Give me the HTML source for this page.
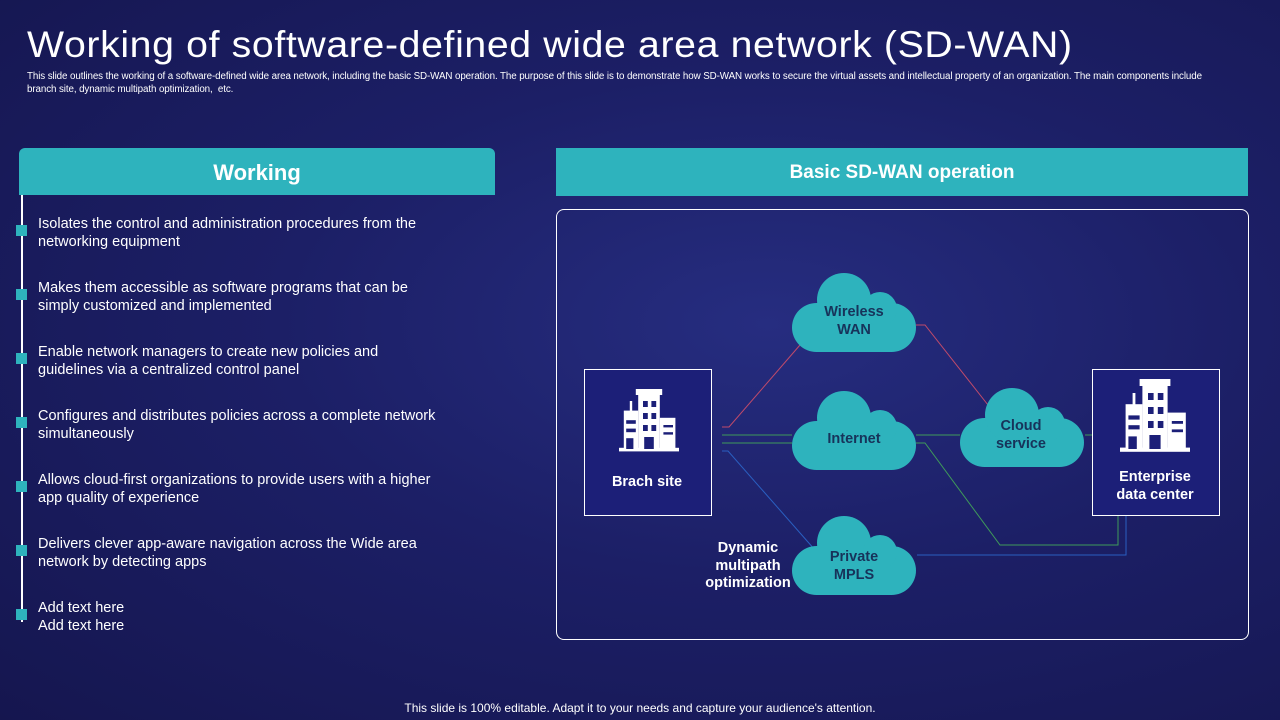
<!DOCTYPE html>
<html><head><meta charset="utf-8"><style>
*{margin:0;padding:0;box-sizing:border-box}
body{width:1280px;height:720px;overflow:hidden;font-family:"Liberation Sans",sans-serif;color:#fff;
background:radial-gradient(ellipse at 60% 45%,#262d80 0%,#1c1f66 45%,#15164f 100%);position:relative}
.abs{position:absolute}
h1{position:absolute;left:27px;top:24px;font-weight:normal;font-size:37px;letter-spacing:0.6px;white-space:nowrap;transform:scaleX(1.06);transform-origin:left}
.sub{left:27px;top:70px;font-size:9.8px;line-height:13px;width:1200px;letter-spacing:-0.1px}
.hdr{background:#2eb3bd;font-weight:bold;text-align:center}
.item{position:absolute;left:38px;font-size:14.5px;line-height:18px;width:405px}
.sq{position:absolute;left:16px;width:11px;height:11px;background:#2eb3bd}
</style></head><body>
<h1>Working of software-defined wide area network (SD-WAN)</h1>
<div class="abs sub">This slide outlines the working of a software-defined wide area network, including the basic SD-WAN operation. The purpose of this slide is to demonstrate how SD-WAN works to secure the virtual assets and intellectual property of an organization. The main components include branch site, dynamic multipath optimization,&nbsp; etc.</div>

<div class="abs hdr" style="left:19px;top:148px;width:476px;height:47px;border-radius:6px 6px 0 0;font-size:22px;line-height:50px">Working</div>
<div class="abs" style="left:21px;top:195px;width:2px;height:427px;background:#fff"></div>
<div class="sq" style="top:225px"></div><div class="item" style="top:215px">Isolates the control and administration procedures from the networking equipment</div>
<div class="sq" style="top:289px"></div><div class="item" style="top:279px">Makes them accessible as software programs that can be simply customized and implemented</div>
<div class="sq" style="top:353px"></div><div class="item" style="top:343px">Enable network managers to create new policies and guidelines via a centralized control panel</div>
<div class="sq" style="top:417px"></div><div class="item" style="top:407px">Configures and distributes policies across a complete network simultaneously</div>
<div class="sq" style="top:481px"></div><div class="item" style="top:471px">Allows cloud-first organizations to provide users with a higher app quality of experience</div>
<div class="sq" style="top:545px"></div><div class="item" style="top:535px">Delivers clever app-aware navigation across the Wide area network by detecting apps</div>
<div class="sq" style="top:609px"></div><div class="item" style="top:599px">Add text here<br>Add text here</div>

<div class="abs hdr" style="left:556px;top:148px;width:692px;height:48px;font-size:19px;line-height:50px">Basic SD-WAN operation</div>
<div class="abs" style="left:556px;top:209px;width:693px;height:431px;border:1.5px solid #fff;border-radius:8px"></div>

<svg class="abs" style="left:0;top:0" width="1280" height="720">
<defs>
<g id="cloud"><rect x="0" y="30" width="124" height="49" rx="24.5" fill="#2eb3bd"/><circle cx="52" cy="27" r="27" fill="#2eb3bd"/><circle cx="88" cy="36" r="17" fill="#2eb3bd"/></g>
<g id="bld" fill="#fff">
<rect x="14" y="0" width="22" height="5"/><rect x="16" y="4" width="18" height="46"/>
<rect x="4" y="18" width="12" height="32"/><rect x="9" y="10" width="2" height="9"/>
<rect x="34" y="24" width="13" height="26"/><rect x="0" y="49" width="50" height="3"/>
</g>
</defs>
<g fill="none" stroke-width="1">
<polyline points="722,427 729,427 800,345" stroke="#c04a6a"/>
<polyline points="916,325 925,325 988,405" stroke="#c04a6a"/>
<polyline points="722,435 792,435" stroke="#3f9a5a"/>
<polyline points="916,435 960,435" stroke="#3f9a5a"/>
<polyline points="1085,435 1092,435" stroke="#3f9a5a"/>
<polyline points="722,443 792,443" stroke="#3f9a5a"/>
<polyline points="916,443 925,443 1000,545 1118,545 1118,515" stroke="#3f9a5a"/>
<polyline points="722,451 728,451 815,550" stroke="#2a5fc0"/>
<polyline points="917,555 1126,555 1126,515" stroke="#2a5fc0"/>
</g>
<use href="#cloud" x="792" y="273"/>
<use href="#cloud" x="792" y="391"/>
<use href="#cloud" x="960" y="388"/>
<use href="#cloud" x="792" y="516"/>
<rect x="584.5" y="369.5" width="127" height="146" fill="#1c1f78" stroke="#fff"/>
<rect x="1092.5" y="369.5" width="127" height="146" fill="#1c1f78" stroke="#fff"/>
<g transform="translate(619,389) scale(1.2)"><use href="#bld"/>
<g fill="#1c1f78"><rect x="20" y="10" width="4" height="5"/><rect x="27" y="10" width="4" height="5"/><rect x="20" y="20" width="4" height="5"/><rect x="27" y="20" width="4" height="5"/><rect x="20" y="30" width="4" height="5"/><rect x="27" y="30" width="4" height="5"/><rect x="6" y="26" width="8" height="3"/><rect x="6" y="33" width="8" height="3"/><rect x="37" y="30" width="8" height="2"/><rect x="37" y="36" width="8" height="2"/><rect x="21" y="40" width="8" height="10"/><rect x="6" y="41" width="6" height="9"/></g></g>
<g transform="translate(1120,379) scale(1.4)"><use href="#bld"/>
<g fill="#1c1f78"><rect x="20" y="10" width="4" height="5"/><rect x="27" y="10" width="4" height="5"/><rect x="20" y="20" width="4" height="5"/><rect x="27" y="20" width="4" height="5"/><rect x="20" y="30" width="4" height="5"/><rect x="27" y="30" width="4" height="5"/><rect x="6" y="26" width="8" height="3"/><rect x="6" y="33" width="8" height="3"/><rect x="37" y="30" width="8" height="2"/><rect x="37" y="36" width="8" height="2"/><rect x="21" y="40" width="8" height="10"/><rect x="6" y="41" width="6" height="9"/></g></g>
<g font-family="Liberation Sans" font-weight="bold" font-size="14.5" text-anchor="middle">
<text x="854" y="316" fill="#17335a">Wireless</text><text x="854" y="334" fill="#17335a">WAN</text>
<text x="854" y="443" fill="#17335a">Internet</text>
<text x="1021" y="430" fill="#17335a">Cloud</text><text x="1021" y="448" fill="#17335a">service</text>
<text x="854" y="561" fill="#17335a">Private</text><text x="854" y="579" fill="#17335a">MPLS</text>
<text x="647" y="486" fill="#fff">Brach site</text>
<text x="1155" y="481" fill="#fff">Enterprise</text><text x="1155" y="499" fill="#fff">data center</text>
<text x="748" y="552" fill="#fff">Dynamic</text><text x="748" y="570" fill="#fff">multipath</text><text x="748" y="587" fill="#fff">optimization</text>
</g>
</svg>
<div class="abs" style="left:0;top:701px;width:1280px;text-align:center;font-size:12px">This slide is 100% editable. Adapt it to your needs and capture your audience's attention.</div>
</body></html>
